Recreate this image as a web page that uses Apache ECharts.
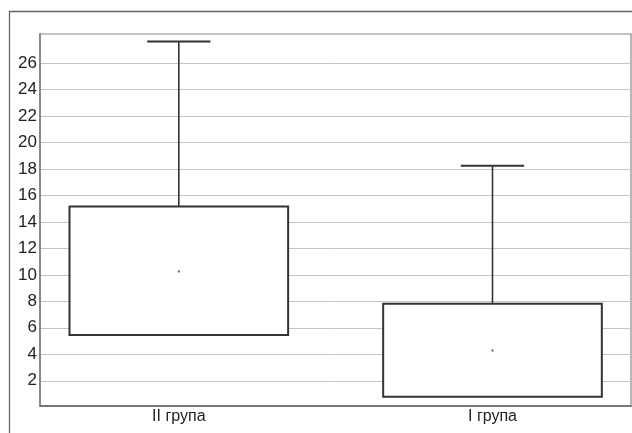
<!DOCTYPE html>
<html>
<head>
<meta charset="utf-8">
<script src="https://cdn.jsdelivr.net/npm/echarts@6/dist/echarts.min.js"></script>
<style>html,body{margin:0;padding:0;background:#fff;}#c{width:632px;height:433px;}</style>
</head>
<body>
<div id="c"></div>
<script>
const categories = ['II група', 'I група'];
const categoryPositions = [1, 2];
const q1Values = [5.45, 0.79];
const q3Values = [15.16, 7.82];
const whiskerMax = [27.63, 18.24];
const meanValues = [10.26, 4.29];
const yTicks = [2, 4, 6, 8, 10, 12, 14, 16, 18, 20, 22, 24, 26];
const yMin = 0.13, yMax = 28.2;
const xMin = 0.5575, xMax = 2.4415;

const boxData = categories.map((c, i) => [categoryPositions[i], q1Values[i], q3Values[i], whiskerMax[i]]);
const meanData = categories.map((c, i) => [categoryPositions[i], meanValues[i]]);

const chart = echarts.init(document.getElementById('c'), null, {renderer: 'canvas'});
const font = '"Liberation Sans", Arial, sans-serif';
chart.setOption({
  animation: false,
  backgroundColor: '#fff',
  graphic: [{
    type: 'rect', silent: true, z: 0,
    shape: {x: 9.5, y: 11.5, width: 700, height: 600},
    style: {fill: 'none', stroke: '#666', lineWidth: 1.3}
  }],
  grid: [
    {left: 40, top: 34, width: 591, height: 371.5, show: true, borderColor: '#888', borderWidth: 1.2, backgroundColor: 'transparent'}
  ],
  xAxis: [
    {type: 'value', min: xMin, max: xMax,
     axisLine: {show: true, onZero: false, lineStyle: {color: '#777', width: 2}},
     axisTick: {show: false, customValues: categoryPositions},
     splitLine: {show: false},
     axisLabel: {color: '#222', fontSize: 16, fontFamily: font, margin: 3, customValues: categoryPositions,
       formatter: function (v) { const i = categoryPositions.indexOf(v); return i >= 0 ? categories[i] : ''; }}}
  ],
  yAxis: [
    {type: 'value', min: yMin, max: yMax,
     axisLine: {show: true, onZero: false, lineStyle: {color: '#888', width: 2}},
     axisTick: {show: false, customValues: yTicks},
     axisLabel: {color: '#222', fontSize: 17, fontFamily: font, margin: 3, customValues: yTicks},
     splitLine: {show: true, lineStyle: {color: '#c4c4c4', width: 1}}}
  ],
  series: [
    {
      type: 'custom', data: boxData, z: 5,
      renderItem: function (params, api) {
        const x = api.value(0);
        const pLow = api.coord([x, api.value(1)]);
        const pHigh = api.coord([x, api.value(2)]);
        const pMax = api.coord([x, api.value(3)]);
        const unit = api.size([1, 0])[0];
        const bw = unit * 0.697;
        const cw = unit * 0.202;
        const cx = pLow[0];
        return {
          type: 'group',
          children: [
            {type: 'line', shape: {x1: cx, y1: pHigh[1], x2: cx, y2: pMax[1]}, style: {stroke: '#333', lineWidth: 1.6}},
            {type: 'line', shape: {x1: cx - cw / 2, y1: pMax[1], x2: cx + cw / 2, y2: pMax[1]}, style: {stroke: '#333', lineWidth: 2}},
            {type: 'rect', shape: {x: cx - bw / 2, y: pHigh[1], width: bw, height: pLow[1] - pHigh[1]}, style: {fill: '#fff', stroke: '#333', lineWidth: 2}}
          ]
        };
      }
    },
    {
      type: 'scatter', data: meanData, z: 6,
      symbol: 'rect', symbolSize: 2, itemStyle: {color: '#333'}
    }
  ]
});
</script>
</body>
</html>
